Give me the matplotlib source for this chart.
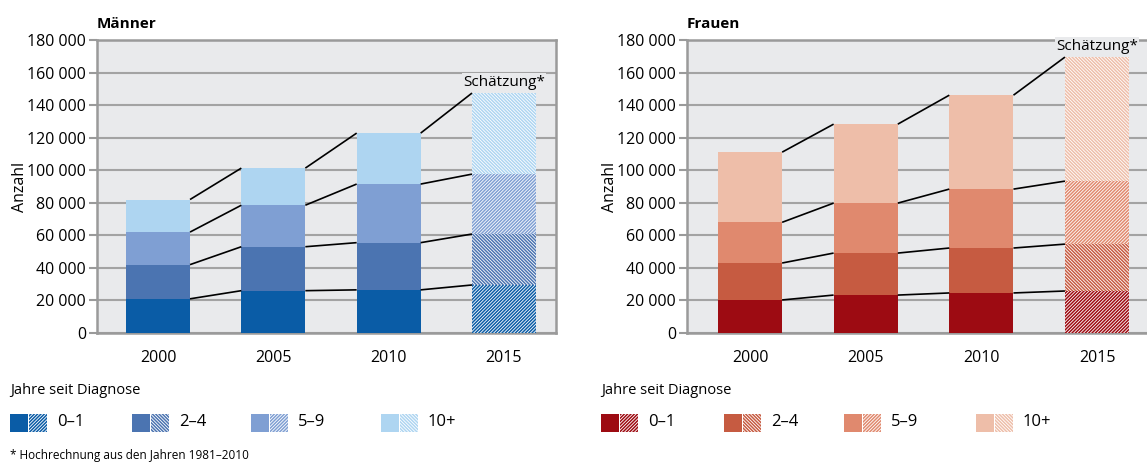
import matplotlib
matplotlib.use("Agg")
import matplotlib.pyplot as plt
from matplotlib.patches import Rectangle
from matplotlib.ticker import FuncFormatter, MultipleLocator
import numpy as np

plt.rcParams['font.family'] = ['Open Sans', 'DejaVu Sans']
plt.rcParams['hatch.linewidth'] = 0.6

years = ['2000', '2005', '2010', '2015']
groups = ['0–1', '2–4', '5–9', '10+']

# Männer: values per group (not cumulative)
maenner_0_1 = [21000, 26000, 26500, 29500]
maenner_2_4 = [21000, 27000, 29000, 31300]
maenner_5_9 = [20000, 25500, 36000, 36800]
maenner_10p = [20000, 22800, 31300, 49800]

frauen_0_1 = [20300, 23300, 24600, 25800]
frauen_2_4 = [22700, 25800, 27600, 28800]
frauen_5_9 = [25000, 30700, 36200, 38700]
frauen_10p = [43100, 48500, 57700, 76200]

blue_colors = ['#0a5ca6', '#4b74b1', '#7f9fd3', '#aed5f1']
red_colors = ['#9d0b12', '#c65b41', '#e0896e', '#eebea9']
hatches = ['/' * 10, '\\' * 10, '/' * 10, '\\' * 10]

bg = '#e9eaec'
grid_c = '#a3a3a3'
spine_c = '#9a9a9a'

fig = plt.figure(figsize=(11.47, 4.63), dpi=100)

def fmt(v, pos):
    return f"{int(v):,}".replace(',', ' ')

def panel(rect, xlim, title, series, colors, right_spine=True):
    ax = fig.add_axes(rect)
    ax.set_facecolor(bg)
    x = np.arange(len(years))
    w = 0.555
    bottoms = np.zeros(len(years))
    tops_list = []
    for gi, vals in enumerate(series):
        vals = np.array(vals, dtype=float)
        for i in range(len(years)):
            if i < 3:
                ax.bar(x[i], vals[i], w, bottom=bottoms[i], color=colors[gi],
                       linewidth=0, zorder=3)
            else:
                ax.bar(x[i], vals[i], w, bottom=bottoms[i], facecolor=colors[gi],
                       edgecolor='white', hatch=hatches[gi], linewidth=0, zorder=3)
        bottoms = bottoms + vals
        tops_list.append(bottoms.copy())
    for tops in tops_list:
        for i in range(len(years) - 1):
            ax.plot([x[i] + w / 2, x[i + 1] - w / 2], [tops[i], tops[i + 1]],
                    color='black', lw=1.2, zorder=4, solid_capstyle='butt')
    ax.text(x[3], tops_list[-1][3] + 2000, 'Schätzung*', ha='center', va='bottom',
            fontsize=11, zorder=5,
            bbox=dict(facecolor=bg, edgecolor='none', pad=1.0))
    ax.set_xlim(*xlim)
    ax.set_ylim(0, 180000)
    ax.yaxis.set_major_locator(MultipleLocator(20000))
    ax.yaxis.set_major_formatter(FuncFormatter(fmt))
    ax.set_xticks(x)
    ax.set_xticklabels(years)
    ax.tick_params(axis='x', length=0, labelsize=11.5, pad=12)
    ax.tick_params(axis='y', length=6, width=1.5, color=spine_c, labelsize=11.5, pad=2)
    ax.grid(axis='y', color=grid_c, lw=1.5, zorder=1)
    ax.set_axisbelow(True)
    for s in ax.spines.values():
        s.set_color(spine_c)
        s.set_linewidth(1.8)
    ax.spines['right'].set_visible(right_spine)
    ax.set_ylabel('Anzahl', fontsize=11.5)
    ax.set_title(title, loc='left', fontsize=11, fontweight='bold', pad=9)
    return ax

ax1 = panel([97 / 1147, 130 / 463, 459 / 1147, 293 / 463], (-0.529, 3.451), 'Männer',
            [maenner_0_1, maenner_2_4, maenner_5_9, maenner_10p], blue_colors)
ax2 = panel([687 / 1147, 130 / 463, 460 / 1147, 293 / 463], (-0.545, 3.432), 'Frauen',
            [frauen_0_1, frauen_2_4, frauen_5_9, frauen_10p], red_colors,
            right_spine=False)
ax1.yaxis.set_label_coords(-0.15, 0.5)
ax2.yaxis.set_label_coords(-0.15, 0.5)

W, H = 1147, 463

def legend(x0, label_offsets, colors):
    fig.text(x0 / W, 1 - 390 / H, 'Jahre seit Diagnose', fontsize=10.5, va='center', ha='left')
    for gi, (dx, c) in enumerate(zip(label_offsets, colors)):
        px = x0 + dx
        fig.add_artist(Rectangle((px / W, 1 - 432 / H), 18 / W, 18 / H,
                                 transform=fig.transFigure, facecolor=c, linewidth=0))
        fig.add_artist(Rectangle(((px + 19) / W, 1 - 432 / H), 18 / W, 18 / H,
                                 transform=fig.transFigure, facecolor=c, edgecolor='white',
                                 hatch=hatches[gi], linewidth=0))
        fig.text((px + 47) / W, 1 - 422 / H, groups[gi], fontsize=12, va='center', ha='left')

legend(10, [0, 122, 241, 371], blue_colors)
legend(601, [0, 123, 243, 375], red_colors)

fig.text(10 / W, 1 - 455 / H, '* Hochrechnung aus den Jahren 1981–2010', fontsize=8.5,
         va='center', ha='left')

fig.savefig('out.png', dpi=100)
